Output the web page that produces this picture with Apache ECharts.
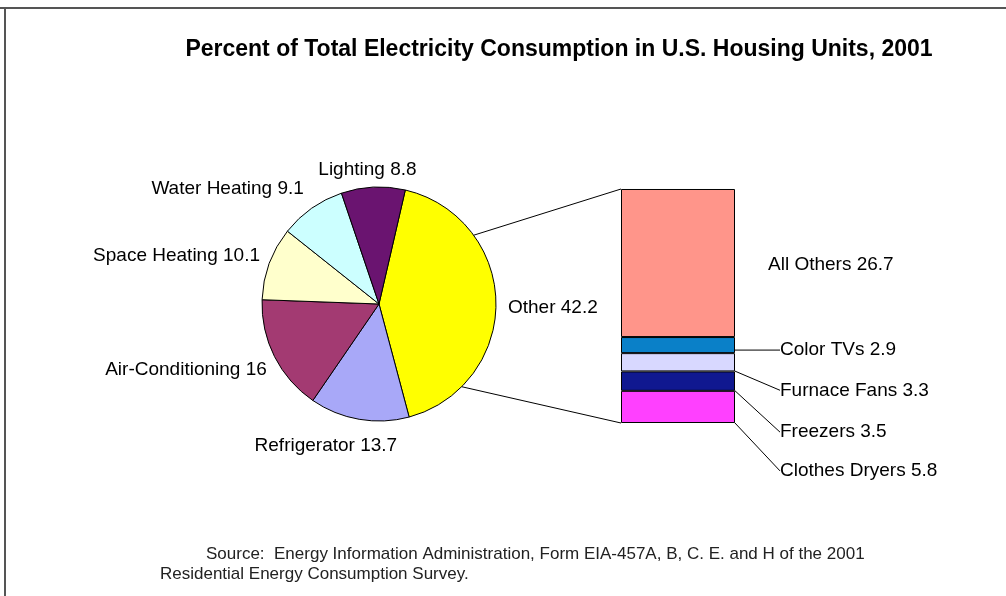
<!DOCTYPE html>
<html>
<head>
    <meta charset="UTF-8">
    <title>Electricity Consumption 2001</title>
    <script src="https://cdn.jsdelivr.net/npm/echarts@6/dist/echarts.min.js"></script>
    <style>
        body { margin: 0; background: #fff; }
    </style>
</head>
<body>
    <div id="main" style="width:1006px;height:596px;"></div>
    <script>
        // pie slices, clockwise starting with "Other"
        var pieNames = ['Other', 'Refrigerator', 'Air-Conditioning', 'Space Heating', 'Water Heating', 'Lighting'];
        var pieValues = [42.2, 13.7, 16, 10.1, 9.1, 8.8];
        var pieColors = ['#ffff00', '#a8a8f8', '#a33a72', '#ffffcc', '#ccffff', '#6a1470'];

        // breakdown of "Other", stacked bottom to top
        var barNames = ['Clothes Dryers', 'Freezers', 'Furnace Fans', 'Color TVs', 'All Others'];
        var barValues = [5.8, 3.5, 3.3, 2.9, 26.7];
        var barColors = ['#ff40ff', '#101890', '#d8d8ff', '#0a80c8', '#ff958a'];

        var pieCenter = [379, 304];
        var pieR = 117;
        var startAngle = 77;
        var grid = { left: 621, top: 189, width: 114, height: 234 };

        var font = '"Liberation Sans", Arial, sans-serif';
        var total = barValues.reduce(function (a, b) { return a + b; }, 0);

        // label nudges (layout only)
        var pieLabelShift = [[-5, 6], [45, 15], [8, 8], [7, -3], [4, -10], [49, -5]];
        var barLabelShift = [64, 51, 28, 5, 2];

        var myChart = echarts.init(document.getElementById('main'));

        var series = [{
            type: 'pie',
            center: pieCenter,
            radius: pieR,
            startAngle: startAngle,
            clockwise: true,
            animation: false,
            itemStyle: { borderColor: '#000', borderWidth: 1 },
            label: {
                show: true,
                position: 'outside',
                formatter: '{b} {c}',
                color: '#000',
                fontFamily: font,
                fontSize: 19
            },
            labelLine: { show: false, length: 12, length2: 0 },
            labelLayout: function (p) {
                var s = pieLabelShift[p.dataIndex];
                return { dx: s[0], dy: s[1] };
            },
            data: pieNames.map(function (n, i) {
                return { name: n, value: pieValues[i], itemStyle: { color: pieColors[i] } };
            })
        }];

        barNames.forEach(function (n, i) {
            series.push({
                type: 'bar',
                name: n,
                stack: 'other',
                barWidth: '100%',
                animation: false,
                itemStyle: { color: barColors[i], borderColor: '#000', borderWidth: 1 },
                label: {
                    show: true,
                    position: 'right',
                    distance: i === 4 ? 33 : 45,
                    formatter: n + ' ' + barValues[i],
                    color: '#000',
                    fontFamily: font,
                    fontSize: 19
                },
                labelLine: { show: i !== 4, lineStyle: { color: '#000', width: 1 } },
                labelLayout: { dy: barLabelShift[i] },
                data: [barValues[i]]
            });
        });

        // connector lines from the "Other" slice to the bar
        function pt(angDeg) {
            var a = angDeg * Math.PI / 180;
            return [pieCenter[0] + pieR * Math.sin(a), pieCenter[1] - pieR * Math.cos(a)];
        }
        var p1 = pt(54), p2 = pt(135);

        var option = {
            backgroundColor: '#fff',
            title: {
                text: 'Percent of Total Electricity Consumption in U.S. Housing Units, 2001',
                left: 554,
                top: 33,
                textAlign: 'center',
                textStyle: { fontFamily: font, fontSize: 23, fontWeight: 'bold', color: '#000' }
            },
            grid: grid,
            xAxis: { type: 'category', data: ['Other'], show: false },
            yAxis: { type: 'value', min: 0, max: total, show: false },
            graphic: [
                { type: 'line', shape: { x1: 0, y1: 8, x2: 1006, y2: 8 }, style: { stroke: '#555', lineWidth: 2 } },
                { type: 'line', shape: { x1: 5, y1: 8, x2: 5, y2: 596 }, style: { stroke: '#555', lineWidth: 2 } },
                { type: 'line', shape: { x1: p1[0], y1: p1[1], x2: grid.left, y2: grid.top }, style: { stroke: '#000', lineWidth: 1 } },
                { type: 'line', shape: { x1: p2[0], y1: p2[1], x2: grid.left, y2: grid.top + grid.height }, style: { stroke: '#000', lineWidth: 1 } },
                {
                    type: 'text', left: 206, top: 546,
                    style: { text: 'Source:  Energy Information Administration, Form EIA-457A, B, C. E. and H of the 2001', font: '17px ' + font, fill: '#222' }
                },
                {
                    type: 'text', left: 160, top: 566,
                    style: { text: 'Residential Energy Consumption Survey.', font: '17px ' + font, fill: '#222' }
                }
            ],
            series: series
        };

        myChart.setOption(option);
    </script>
</body>
</html>
